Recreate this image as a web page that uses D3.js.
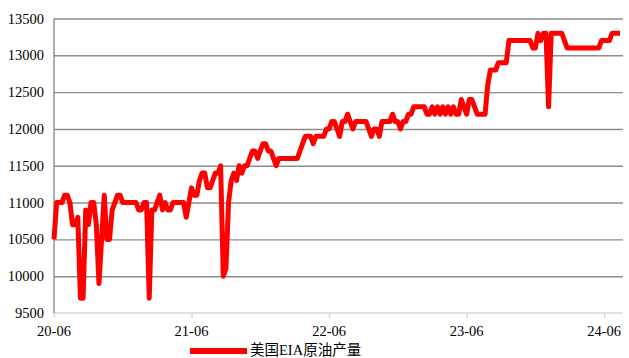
<!DOCTYPE html>
<html>
<head>
<meta charset="utf-8">
<script src="https://cdn.jsdelivr.net/npm/d3@7"></script>
<style>
    body { margin: 0; background: #fff; }
</style>
</head>
<body>
<div id="svgDiv"></div>
<script>

// weekly US EIA crude output (kb/d), first week 2020-06-05
const startDate = '2020-06-05'
const output_20_21 = [10500, 11000, 11000, 11000, 11100, 11100, 11000, 10700, 10700, 10800,
    9700, 9700, 10900, 10700, 11000, 11000, 10700, 9900, 10500, 11100,
    10500, 10500, 10900, 11000, 11100, 11100, 11000, 11000, 11000, 11000,
    11000, 11000, 10900, 10900, 11000, 11000, 9700, 10900, 10900, 11000,
    11100, 10900, 11000, 10900, 10900, 11000, 11000, 11000, 11000, 11000,
    10800, 11000]
const output_21_22 = [11200, 11100, 11100, 11300, 11400, 11400, 11200, 11200, 11300, 11400,
    11400, 11500, 10000, 10100, 11000, 11300, 11400, 11300, 11500, 11400,
    11500, 11500, 11600, 11700, 11700, 11600, 11700, 11800, 11800, 11700,
    11700, 11600, 11500, 11600, 11600, 11600, 11600, 11600, 11600, 11600,
    11600, 11700, 11800, 11900, 11900, 11900, 11800, 11900, 11900, 11900,
    11900, 12000]
const output_22_23 = [12000, 12100, 12100, 12000, 11900, 12100, 12100, 12200, 12100, 12000,
    12100, 12100, 12100, 12100, 12100, 12000, 11900, 12000, 12000, 11900,
    12100, 12100, 12100, 12100, 12200, 12100, 12100, 12000, 12100, 12100,
    12200, 12200, 12300, 12300, 12300, 12300, 12300, 12200, 12200, 12300,
    12200, 12300, 12200, 12300, 12200, 12300, 12200, 12300, 12200, 12200,
    12400, 12300]
const output_23_24 = [12200, 12400, 12400, 12300, 12200, 12200, 12200, 12200, 12600, 12800,
    12800, 12800, 12900, 12900, 12900, 12900, 13200, 13200, 13200, 13200,
    13200, 13200, 13200, 13200, 13200, 13100, 13100, 13300, 13200, 13300,
    13300, 12300, 13300, 13300, 13300, 13300, 13300, 13200, 13100, 13100,
    13100, 13100, 13100, 13100, 13100, 13100, 13100, 13100, 13100, 13100,
    13100, 13200]
const output_24 = [13200, 13200, 13200, 13300, 13300, 13300, 13300]

const yTicks = [9500, 10000, 10500, 11000, 11500, 12000, 12500, 13000, 13500]
const xTickLabels = ['20-06', '21-06', '22-06', '23-06', '24-06']
const seriesName = '美国EIA原油产量'

var serif = "'Liberation Serif', 'Times New Roman', 'DejaVu Serif', serif",
    legendFont = "'Liberation Serif', 'Times New Roman', 'Noto Sans CJK SC', serif";

// put the weeks together
var values = [].concat(output_20_21, output_21_22, output_22_23, output_23_24, output_24),
    start = d3.timeParse('%Y-%m-%d')(startDate),
    data = values.map((v, i) => ({date: d3.timeWeek.offset(start, i), value: v}));

var width = 629,
    height = 358,
    margin = {top: 18.5, right: 6, bottom: 45, left: 54};

var svg = d3.select('#svgDiv')
    .append('svg')
        .attr('width', width)
        .attr('height', height);

// scales
var x = d3.scaleTime()
    .domain([start, data[data.length - 1].date])
    .range([margin.left, 620]);

var y = d3.scaleLinear()
    .domain([9500, 13500])
    .range([height - margin.bottom, margin.top]);

// horizontal grid lines
svg.append('g')
    .attr('transform', 'translate(' + margin.left + ',0)')
    .call(d3.axisLeft(y).tickValues(yTicks).tickSize(-(width - margin.right - margin.left)).tickFormat(''))
    .call(g => g.select('.domain').remove())
    .call(g => g.selectAll('.tick line')
        .attr('stroke', d => d == 9500 ? 'none' : '#8c8c8c')
        .attr('stroke-width', 1.4));

// y tick labels
svg.append('g')
    .selectAll('text')
    .data(yTicks)
    .join('text')
    .attr('font-family', serif)
    .attr('font-size', 14.5)
    .attr('x', margin.left - 10)
    .attr('y', d => y(d))
    .attr('dy', '0.35em')
    .attr('text-anchor', 'end')
    .text(d => d);

// x axis, one tick every 52 weeks
var xTicks = xTickLabels.map((t, k) => d3.timeWeek.offset(start, 52 * k));
svg.append('g')
    .attr('transform', 'translate(0,' + y(9500) + ')')
    .call(d3.axisBottom(x).tickValues(xTicks).tickSize(5).tickFormat(''))
    .call(g => g.select('.domain').attr('d', 'M' + margin.left + ',0H' + (width - margin.right)).attr('stroke', '#d9d9d9').attr('stroke-width', 1.4))
    .call(g => g.selectAll('.tick line').attr('stroke', '#d9d9d9').attr('stroke-width', 1.4));

svg.append('g')
    .selectAll('text')
    .data(xTicks)
    .join('text')
    .attr('font-family', serif)
    .attr('font-size', 14.5)
    .attr('x', d => x(d))
    .attr('y', 336)
    .attr('text-anchor', 'middle')
    .text((d, i) => xTickLabels[i]);

// left axis line
svg.append('line')
    .attr('x1', margin.left).attr('x2', margin.left)
    .attr('y1', y(13500)).attr('y2', y(9500))
    .attr('stroke', '#8c8c8c')
    .attr('stroke-width', 1.4);

// production line
var line = d3.line()
    .x(d => x(d.date))
    .y(d => y(d.value));

svg.append('path')
    .datum(data)
    .attr('d', line)
    .attr('fill', 'none')
    .attr('stroke', '#ff0000')
    .attr('stroke-width', 5)
    .attr('stroke-linejoin', 'round');

// legend
svg.append('line')
    .attr('x1', 190).attr('x2', 247)
    .attr('y1', 351).attr('y2', 351)
    .attr('stroke', '#ff0000')
    .attr('stroke-width', 6);

svg.append('text')
    .attr('font-family', legendFont)
    .attr('font-size', 14.5)
    .attr('x', 250)
    .attr('y', 355)
    .text(seriesName);

</script>
</body>
</html>
